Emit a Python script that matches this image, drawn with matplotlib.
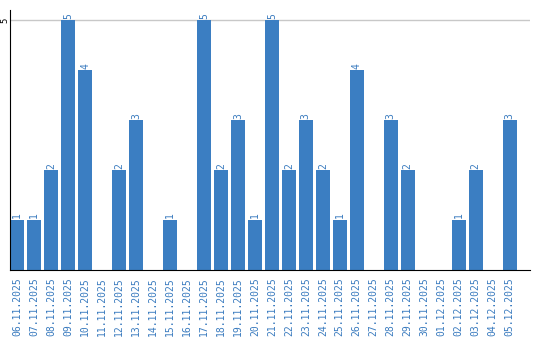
import matplotlib
matplotlib.use("Agg")
import matplotlib.pyplot as plt
import numpy as np

dates = [
    "06.11.2025", "07.11.2025", "08.11.2025", "09.11.2025", "10.11.2025",
    "11.11.2025", "12.11.2025", "13.11.2025", "14.11.2025", "15.11.2025",
    "16.11.2025", "17.11.2025", "18.11.2025", "19.11.2025", "20.11.2025",
    "21.11.2025", "22.11.2025", "23.11.2025", "24.11.2025", "25.11.2025",
    "26.11.2025", "27.11.2025", "28.11.2025", "29.11.2025", "30.11.2025",
    "01.12.2025", "02.12.2025", "03.12.2025", "04.12.2025", "05.12.2025",
]
counts = [1, 1, 2, 5, 4, 0, 2, 3, 0, 1,
          0, 5, 2, 3, 1, 5, 2, 3, 2, 1,
          4, 0, 3, 2, 0, 0, 1, 2, 0, 3]
y_ticks = [5]

bar_color = "#3b7ec2"
label_color = "#3a7bbf"

fig = plt.figure(figsize=(5.4, 3.4), dpi=100)
ax = fig.add_axes([10 / 540, 70 / 340, 520 / 540, 260 / 340])

x = np.arange(len(dates))
ax.bar(x, counts, width=0.82, color=bar_color, zorder=2)

for xi, v in zip(x, counts):
    if v > 0:
        ax.text(xi, v + 0.03, str(v), rotation=90, ha="center", va="bottom",
                color=label_color, fontsize=7, family="DejaVu Sans Mono")

ax.set_xlim(-0.42, 30.2)
ax.set_ylim(0, 5.2)
ax.set_yticks(y_ticks)
ax.set_yticklabels([])
ax.tick_params(axis="y", length=0)
ax.yaxis.grid(True, color="#c8c8c8", linewidth=1, zorder=0)

# y tick labels drawn by hand so the rotated text is not clipped at the edge
for t in y_ticks:
    ax.annotate(str(t), xy=(0, t), xycoords=("axes fraction", "data"),
                xytext=(-5, 0), textcoords="offset pixels",
                rotation=90, ha="center", va="center", fontsize=6.5,
                family="DejaVu Sans Mono", color="black")

ax.set_xticks(x)
ax.set_xticklabels(dates, rotation=90, fontsize=7, color=label_color,
                   family="DejaVu Sans Mono")
ax.tick_params(axis="x", length=0, pad=5)

ax.spines["top"].set_visible(False)
ax.spines["right"].set_visible(False)
ax.spines["left"].set_color("black")
ax.spines["bottom"].set_color("black")

fig.savefig("out.png", dpi=100)
